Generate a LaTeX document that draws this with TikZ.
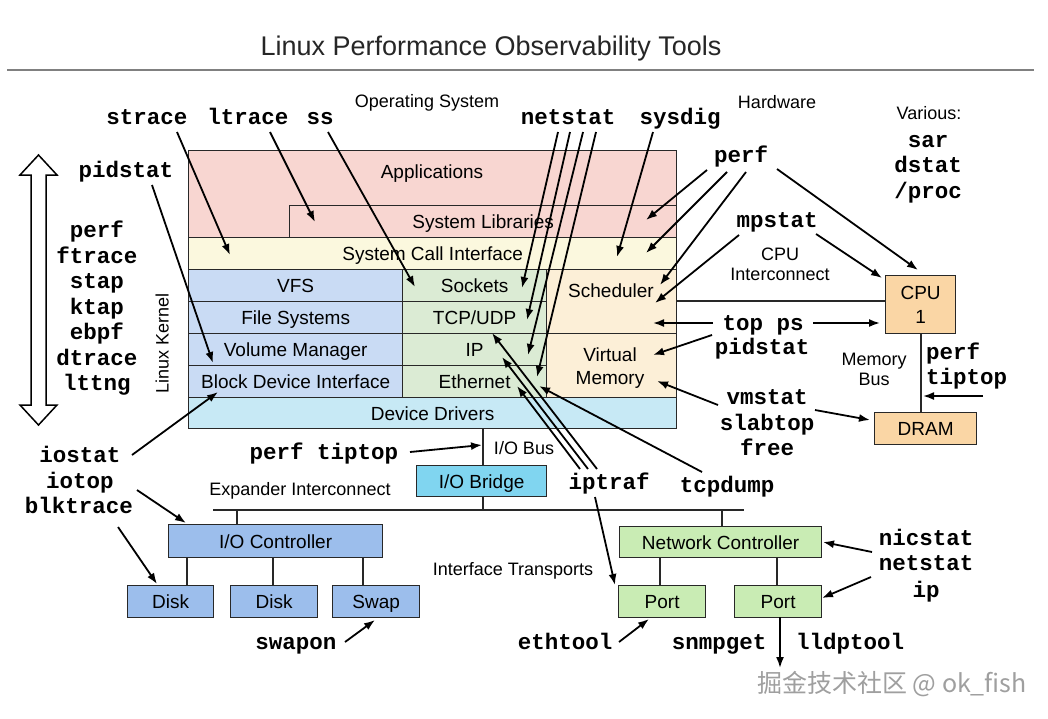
\documentclass[tikz,border=0pt]{standalone}
\usepackage{fontspec}
\setmainfont{Liberation Sans}
\setmonofont{Liberation Mono}
\newfontfamily\cjkfont{Noto Sans CJK SC}
\usetikzlibrary{arrows.meta}
\definecolor{cpink}{RGB}{248,214,209}
\definecolor{cyellow}{RGB}{251,248,222}
\definecolor{cblue}{RGB}{201,219,244}
\definecolor{cgreen}{RGB}{219,235,212}
\definecolor{cpeach}{RGB}{252,239,215}
\definecolor{ccyan}{RGB}{199,233,245}
\definecolor{cbridge}{RGB}{128,213,240}
\definecolor{chwblue}{RGB}{156,190,236}
\definecolor{chwgreen}{RGB}{201,236,180}
\definecolor{corange}{RGB}{250,214,165}
\definecolor{linec}{RGB}{40,40,40}
\newcommand\bxfont{\fontsize{19}{22}\selectfont}
\newcommand\lgfont{\fontsize{18}{21}\selectfont}
\newcommand\tlfont{\fontsize{22.5}{25.5}\selectfont\ttfamily\bfseries}
\begin{document}
\begin{tikzpicture}[x=1pt,y=-1pt,
  box/.style={draw=linec, line width=1.3pt, inner sep=0pt, anchor=north west, font=\bxfont, text height=13.7pt, text depth=0pt},
  blbl/.style={font=\bxfont, anchor=mid, inner sep=0pt, yshift=-3pt},
  lbl/.style={font=\lgfont, anchor=mid, inner sep=0pt, yshift=-3pt},
  tool/.style={font=\tlfont, anchor=mid, inner sep=0pt, yshift=-5pt},
  arr/.style={line width=1.8pt, -{Latex[length=11pt,width=8pt]}},
  wire/.style={line width=1.3pt, draw=linec}]
\useasboundingbox (0,0) rectangle (1048,718);
\fill[white] (0,0) rectangle (1048,718);

% title
\node[font=\fontsize{27}{30}\selectfont, text=black!85, anchor=mid, inner sep=0pt] (title) at (491,53) {Linux Performance Observability Tools};
\draw[line width=1.5pt, gray] (7,70) -- (1034,70);

% kernel stack
\node[box, fill=cpink, minimum width=488pt, minimum height=87pt] (app) at (188,150) {};
\node[blbl] (appl) at (432,173) {Applications};
\node[box, fill=cpink, minimum width=387pt, minimum height=32pt] (lib) at (289,205) {System Libraries};
\node[box, fill=cyellow, minimum width=488pt, minimum height=32pt] (sci) at (188,237) {System Call Interface};
\node[box, fill=cblue, minimum width=214pt, minimum height=32pt] (vfs) at (188,269) {VFS};
\node[box, fill=cblue, minimum width=214pt, minimum height=32pt] (fs) at (188,301) {File Systems};
\node[box, fill=cblue, minimum width=214pt, minimum height=32pt] (vm) at (188,333) {Volume Manager};
\node[box, fill=cblue, minimum width=214pt, minimum height=32pt] (bdi) at (188,365) {Block Device Interface};
\node[box, fill=cgreen, minimum width=144pt, minimum height=32pt] (sock) at (402,269) {Sockets};
\node[box, fill=cgreen, minimum width=144pt, minimum height=32pt] (tcp) at (402,301) {TCP/UDP};
\node[box, fill=cgreen, minimum width=144pt, minimum height=32pt] (ip) at (402,333) {IP};
\node[box, fill=cgreen, minimum width=144pt, minimum height=32pt] (eth) at (402,365) {Ethernet};
\node[box, fill=cpeach, minimum width=130pt, minimum height=64pt] (sched) at (546,269) {};
\node[blbl] (schedl) at (611,292) {Scheduler};
\node[box, fill=cpeach, minimum width=130pt, minimum height=64pt] (vmem) at (546,333) {};
\node[blbl] (vml1) at (610,356) {Virtual};
\node[blbl] (vml2) at (610,379) {Memory};
\node[box, fill=ccyan, minimum width=488pt, minimum height=31pt] (dd) at (188,397) {Device Drivers};

% hardware
\node[box, fill=cbridge, minimum width=130pt, minimum height=31pt] (bridge) at (416,465) {I/O Bridge};
\node[box, fill=chwblue, minimum width=214pt, minimum height=33pt] (ioc) at (168,524) {I/O Controller};
\node[box, fill=chwblue, minimum width=86pt, minimum height=32pt] (disk1) at (127,585) {Disk};
\node[box, fill=chwblue, minimum width=87pt, minimum height=32pt] (disk2) at (230,585) {Disk};
\node[box, fill=chwblue, minimum width=87pt, minimum height=32pt] (swap) at (332,585) {Swap};
\node[box, fill=chwgreen, minimum width=202pt, minimum height=31pt] (nc) at (619,526) {Network Controller};
\node[box, fill=chwgreen, minimum width=87pt, minimum height=32pt] (port1) at (618,585) {Port};
\node[box, fill=chwgreen, minimum width=87pt, minimum height=32pt] (port2) at (734,585) {Port};
\node[box, fill=corange, minimum width=70pt, minimum height=58pt, align=center, text height=, text depth=] (cpu) at (885,275) {CPU\\[2pt]1};
\node[box, fill=corange, minimum width=102pt, minimum height=32pt] (dram) at (874,412) {DRAM};

% wires
\coordinate (exL) at (213,510);
\coordinate (exR) at (744,510);
\draw[wire] (exL) -- (exR);
\draw[wire] (676,301) -- (cpu.west |- 0,301);
\draw[wire] (921,333) -- (921,412);
\draw[wire] (483,428) -- (483,465);
\draw[wire] (483,496) -- (483,510);
\draw[wire] (237,510) -- (237,524);
\draw[wire] (187,557) -- (187,585);
\draw[wire] (273,557) -- (273,585);
\draw[wire] (363,557) -- (363,585);
\draw[wire] (722,510) -- (722,526);
\draw[wire] (660,557) -- (660,585);
\draw[wire] (777,557) -- (777,585);

% labels
\node[lbl] (os) at (427,102) {Operating System};
\node[lbl] (hw) at (777,103) {Hardware};
\node[lbl] (var) at (929,114) {Various:};
\node[lbl] (cpui1) at (780,255) {CPU};
\node[lbl] (cpui2) at (780,275) {Interconnect};
\node[lbl] (mb1) at (874,360) {Memory};
\node[lbl] (mb2) at (874,380) {Bus};
\node[lbl] (iob) at (524,449) {I/O Bus};
\node[lbl] (exp) at (300,490) {Expander Interconnect};
\node[lbl] (ift) at (513,570) {Interface Transports};
\node[lbl, rotate=90, yshift=3pt, xshift=-3pt] (lk) at (169,337) {Linux Kernel};

% big double arrow
\draw[line width=1.5pt, fill=white] (38.5,155) -- (57,175) -- (46,175) -- (46,405) -- (57,405) -- (38.5,425) -- (20,405) -- (31,405) -- (31,175) -- (20,175) -- cycle;

% tools
\node[tool] (strace) at (147,117) {strace};
\node[tool] (ltrace) at (248,117) {ltrace};
\node[tool] (ss) at (320,117) {ss};
\node[tool] (netstat) at (568,117) {netstat};
\node[tool] (sysdig) at (680,117) {sysdig};
\node[tool] (perfA) at (741,155) {perf};
\node[tool] (mpstat) at (777,220) {mpstat};
\node[tool] (sar) at (928,140) {sar};
\node[tool] (dstat) at (928,165) {dstat};
\node[tool] (proc) at (928,191) {/proc};
\node[tool] (pidstatA) at (126,170) {pidstat};
\node[tool] (kperf) at (97,230) {perf};
\node[tool] (kftrace) at (97,256) {ftrace};
\node[tool] (kstap) at (97,281) {stap};
\node[tool] (kktap) at (97,307) {ktap};
\node[tool] (kebpf) at (97,332) {ebpf};
\node[tool] (kdtrace) at (97,358) {dtrace};
\node[tool] (klttng) at (97,383) {lttng};
\node[tool] (topps) at (763,323) {top ps};
\node[tool] (pidstatB) at (762,347) {pidstat};
\node[tool] (vmstat) at (767,397) {vmstat};
\node[tool] (slabtop) at (767,423) {slabtop};
\node[tool] (free) at (767,448) {free};
\node[tool, anchor=mid west] (perfB) at (926,352) {perf};
\node[tool, anchor=mid west] (tiptopB) at (926,377) {tiptop};
\node[tool] (iostat) at (80,455) {iostat};
\node[tool] (iotop) at (80,481) {iotop};
\node[tool] (blktrace) at (79,506) {blktrace};
\node[tool] (perftt) at (324,452) {perf tiptop};
\node[tool] (iptraf) at (609,482) {iptraf};
\node[tool] (tcpdump) at (727,485) {tcpdump};
\node[tool] (nicstat) at (926,538) {nicstat};
\node[tool] (netstatB) at (926,563) {netstat};
\node[tool] (ipB) at (926,590) {ip};
\node[tool] (swapon) at (296,642) {swapon};
\node[tool] (ethtool) at (565,642) {ethtool};
\node[tool] (snmpget) at (719,642) {snmpget};
\node[tool] (lldptool) at (850,642) {lldptool};

% arrow endpoints
\coordinate (s1) at (177,132); \coordinate (t1) at (230,255);
\coordinate (s2) at (270,132); \coordinate (t2) at (315,222);
\coordinate (s3) at (328,132); \coordinate (t3) at (415,287);
\coordinate (s4) at (152,185); \coordinate (t4) at (213,363);
\coordinate (s5) at (558,132); \coordinate (t5) at (522,288);
\coordinate (s6) at (570,132); \coordinate (t6) at (527,320);
\coordinate (s7) at (583,132); \coordinate (t7) at (528,355);
\coordinate (s8) at (596,132); \coordinate (t8) at (537,377);
\coordinate (s9) at (653,132); \coordinate (t9) at (617,257);
\coordinate (s10) at (707,170); \coordinate (t10) at (646,220);
\coordinate (s11) at (727,172); \coordinate (t11) at (646,253);
\coordinate (s12) at (746,172); \coordinate (t12) at (660,285);
\coordinate (s13) at (777,169); \coordinate (t13) at (918,270);
\coordinate (s14) at (739,235); \coordinate (t14) at (655,303);
\coordinate (s15) at (816,234); \coordinate (t15) at (882,278);
\coordinate (s16) at (713,323); \coordinate (t16) at (653,323);
\coordinate (s17) at (813,323); \coordinate (t17) at (880,323);
\coordinate (s18) at (712,335); \coordinate (t18) at (653,355);
\coordinate (s19) at (718,405); \coordinate (t19) at (657,381);
\coordinate (s20) at (815,410); \coordinate (t20) at (870,420);
\coordinate (s21) at (983,396); \coordinate (t21) at (923,396);
\coordinate (s22) at (132,455); \coordinate (t22) at (218,392);
\coordinate (s23) at (137,490); \coordinate (t23) at (186,523);
\coordinate (s24) at (118,527); \coordinate (t24) at (157,584);
\coordinate (s25) at (410,452); \coordinate (t25) at (482,445);
\coordinate (s26) at (580,469); \coordinate (t26) at (517,386);
\coordinate (s27) at (588,469); \coordinate (t27) at (502,357);
\coordinate (s28) at (597,469); \coordinate (t28) at (492,333);
\coordinate (s29) at (595,497); \coordinate (t29) at (615,585);
\coordinate (s30) at (702,472); \coordinate (t30) at (539,386);
\coordinate (s31) at (872,552); \coordinate (t31) at (823,542);
\coordinate (s32) at (871,577); \coordinate (t32) at (822,598);
\coordinate (s33) at (619,642); \coordinate (t33) at (649,619);
\coordinate (s34) at (345,642); \coordinate (t34) at (375,620);
\coordinate (s35) at (780,617); \coordinate (t35) at (780,668);

\foreach \i in {1,...,35} { \draw[arr] (s\i) -- (t\i); }

% watermark
\node[font=\cjkfont\fontsize{25}{27}\selectfont, text=gray!75, anchor=mid, inner sep=0pt] (wm) at (892,690) {掘金技术社区 @ ok\_fish};
\end{tikzpicture}
\end{document}
